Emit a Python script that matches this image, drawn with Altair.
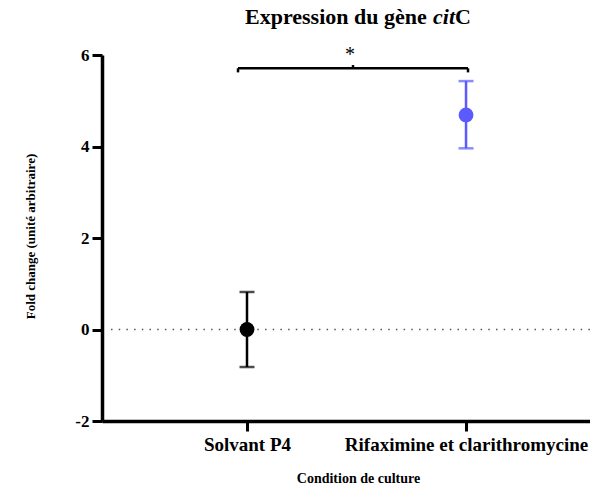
import altair as alt
import pandas as pd

# ---- data ----
conditions = ["Solvant P4", "Rifaximine et clarithromycine"]
means = [0.0, 4.69]
err_low = [-0.82, 3.96]
err_high = [0.82, 5.43]
colors = ["#000000", "#5a5aff"]
y_ticks = [-2, 0, 2, 4, 6]

# significance bracket (data units)
br_x0, br_x1, br_xc = -0.041, 1.009, 0.484
br_y, br_drop, br_rise = 5.71, 5.62, 5.78
star_x, star_y = 0.47, 5.87

FONT = "Liberation Serif"
W, H = 488, 366
XDOM = [-0.662, 1.566]
YDOM = [-2, 6]

df = pd.DataFrame({
    "pos": list(range(len(conditions))),
    "cond": conditions,
    "mean": means,
    "lo": err_low,
    "hi": err_high,
})

label_expr = " : ".join(
    [f"datum.value == {i} ? '{c}'" for i, c in enumerate(conditions[:-1])]
) + f" : '{conditions[-1]}'"

xs = alt.Scale(domain=XDOM, nice=False, zero=False)
ys = alt.Scale(domain=YDOM, nice=False, zero=False)
col = alt.Color("cond:N", scale=alt.Scale(domain=conditions, range=colors), legend=None)

x_axis = alt.Axis(
    values=list(range(len(conditions))), labelExpr=label_expr, grid=False,
    tickSize=10, tickWidth=3, tickColor="black", domainWidth=3.5, domainColor="black",
    labelFont=FONT, labelFontSize=19, labelFontWeight="bold", labelColor="black",
    labelPadding=4, labelLimit=0, labelOverlap=False,
    title="Condition de culture", titleFont=FONT, titleFontSize=14,
    titleFontWeight="bold", titleColor="black", titleX=W / 2 + 12, titleY=61,
    titleBaseline="alphabetic", titleAnchor="middle",
)
y_axis = alt.Axis(
    values=y_ticks, grid=False,
    labelExpr="datum.value < 0 ? '-' + abs(datum.value) : '' + datum.value",
    tickSize=10, tickWidth=3, tickColor="black", domainWidth=3.5, domainColor="black",
    labelFont=FONT, labelFontSize=17, labelFontWeight="bold", labelColor="black",
    labelPadding=3, title="Fold change (unité arbitraire)", titleFont=FONT,
    titleFontSize=13, titleFontWeight="bold", titleColor="black",
    titleX=-72, titleY=H / 2 - 2, titleAngle=270, titleAlign="center",
    titleBaseline="middle",
)

base = alt.Chart(df)

axes_layer = base.mark_point(opacity=0).encode(
    x=alt.X("pos:Q", scale=xs, axis=x_axis),
    y=alt.Y("mean:Q", scale=ys, axis=y_axis),
)

zero_line = alt.Chart(pd.DataFrame({"y": [0]})).mark_rule(
    color="#555555", strokeWidth=1.5, strokeDash=[1.5, 6.2]
).encode(y=alt.Y("y:Q", scale=ys), x=alt.value(9), x2=alt.value(W))

bars = base.mark_rule(strokeWidth=2.5).encode(
    x=alt.X("pos:Q", scale=xs), y=alt.Y("lo:Q", scale=ys), y2="hi:Q", color=col
)
cap_lo = base.mark_tick(orient="horizontal", size=15, thickness=2.5).encode(
    x=alt.X("pos:Q", scale=xs), y=alt.Y("lo:Q", scale=ys), color=col
)
cap_hi = base.mark_tick(orient="horizontal", size=15, thickness=2.5).encode(
    x=alt.X("pos:Q", scale=xs), y=alt.Y("hi:Q", scale=ys), color=col
)
points = base.mark_circle(size=220, opacity=1).encode(
    x=alt.X("pos:Q", scale=xs), y=alt.Y("mean:Q", scale=ys), color=col
)

# bracket
br_h = alt.Chart(pd.DataFrame({"x": [br_x0], "x2": [br_x1], "y": [br_y]})).mark_rule(
    color="black", strokeWidth=2.5
).encode(x=alt.X("x:Q", scale=xs), x2="x2:Q", y=alt.Y("y:Q", scale=ys))
br_v = alt.Chart(pd.DataFrame({
    "x": [br_x0, br_x1, br_xc],
    "y": [br_drop, br_drop, br_y],
    "y2": [br_y, br_y, br_rise],
})).mark_rule(color="black", strokeWidth=2.5).encode(
    x=alt.X("x:Q", scale=xs), y=alt.Y("y:Q", scale=ys), y2="y2:Q"
)
star = alt.Chart(pd.DataFrame({"x": [star_x], "y": [star_y], "t": ["*"]})).mark_text(
    font=FONT, fontSize=20, color="black", baseline="alphabetic", align="center"
).encode(x=alt.X("x:Q", scale=xs), y=alt.Y("y:Q", scale=ys), text="t:N")

# title pieces (regular bold + italic "cit")
title_parts = ["Expression du gène", "cit", "C"]
tdf = pd.DataFrame({"t": [title_parts[0]]})
t1 = alt.Chart(tdf).mark_text(
    font=FONT, fontSize=22, fontWeight="bold", color="black",
    align="left", baseline="alphabetic"
).encode(x=alt.value(143), y=alt.value(-31), text=alt.value(title_parts[0]))
t2 = alt.Chart(tdf).mark_text(
    font=FONT, fontSize=22, fontWeight="bold", fontStyle="italic", color="black",
    align="left", baseline="alphabetic"
).encode(x=alt.value(331), y=alt.value(-31), text=alt.value(title_parts[1]))
t3 = alt.Chart(tdf).mark_text(
    font=FONT, fontSize=22, fontWeight="bold", color="black",
    align="left", baseline="alphabetic"
).encode(x=alt.value(353), y=alt.value(-31), text=alt.value(title_parts[2]))

chart = alt.layer(
    axes_layer, zero_line, bars, cap_lo, cap_hi, points, br_h, br_v, star, t1, t2, t3
).properties(
    width=W, height=H,
    background="white",
    autosize=alt.AutoSizeParams(type="none"),
    padding={"left": 94, "top": 47, "right": 0, "bottom": 65},
).configure_view(strokeWidth=0, stroke="transparent")

chart.save("out.html", embed_options={"renderer": "svg", "actions": False})
